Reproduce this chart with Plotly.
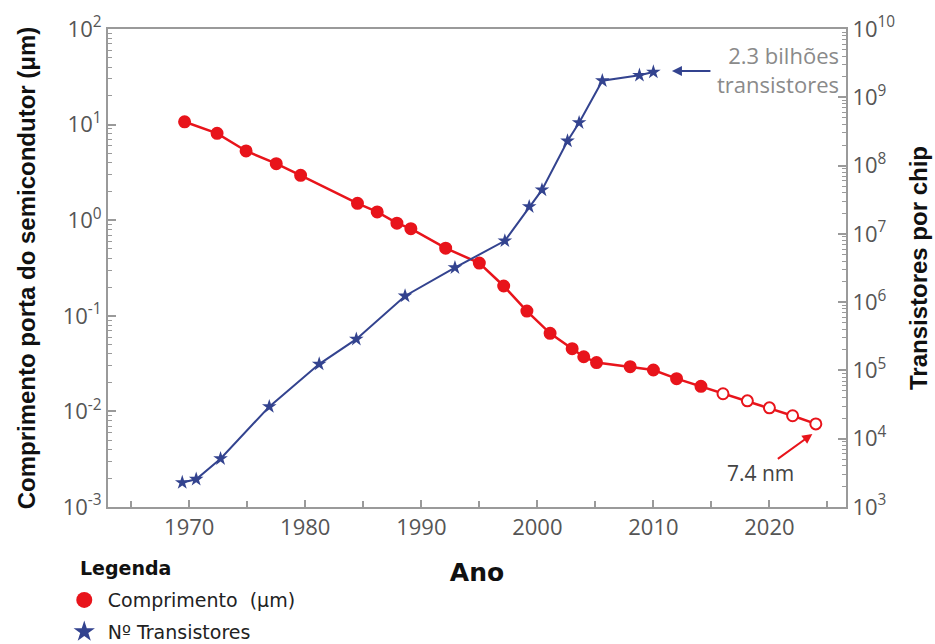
import plotly.graph_objects as go

# ---- data ----
len_years = [1969.6, 1972.4, 1974.9, 1977.5, 1979.6, 1984.5, 1986.2, 1987.9, 1989.1,
             1992.1, 1995.0, 1997.1, 1999.1, 2001.1, 2003.0, 2004.0, 2005.1, 2008.0,
             2010.0, 2012.0, 2014.1, 2016.0, 2018.1, 2020.0, 2022.0, 2024.0]
len_um = [10.7, 8.1, 5.3, 3.9, 2.95, 1.50, 1.22, 0.93, 0.815,
          0.51, 0.356, 0.205, 0.112, 0.0656, 0.0453, 0.0373, 0.0324, 0.0294,
          0.0271, 0.022, 0.0183, 0.0153, 0.0129, 0.0109, 0.0090, 0.0074]
len_projected = [False] * 21 + [True] * 5

tr_years = [1969.4, 1970.6, 1972.7, 1976.9, 1981.2, 1984.4, 1988.6, 1992.9, 1997.2,
            1999.3, 2000.4, 2002.6, 2003.6, 2005.6, 2008.8, 2010.0]
tr_count = [2280, 2550, 5100, 29500, 124000, 287000, 1.23e6, 3.2e6, 7.9e6,
            2.5e7, 4.4e7, 2.29e8, 4.25e8, 1.75e9, 2.1e9, 2.34e9]

x_ticks = [1970, 1980, 1990, 2000, 2010, 2020]
y1_ticks = [1e-3, 1e-2, 1e-1, 1e0, 1e1, 1e2]
y1_labels = ["10<sup>-3</sup>", "10<sup>-2</sup>", "10<sup>-1</sup>",
             "10<sup>0</sup>", "10<sup>1</sup>", "10<sup>2</sup>"]
y2_ticks = [1e3, 1e4, 1e5, 1e6, 1e7, 1e8, 1e9, 1e10]
y2_labels = ["10<sup>3</sup>", "10<sup>4</sup>", "10<sup>5</sup>", "10<sup>6</sup>",
             "10<sup>7</sup>", "10<sup>8</sup>", "10<sup>9</sup>", "10<sup>10</sup>"]

RED = "#e8141b"
BLUE = "#33438f"
AXIS = "#9a9a9a"
TICKFONT = dict(family="Open Sans", size=22, color="#555555")
TITLEFONT = dict(family="Liberation Sans", size=24, color="#111111")


def minor_log(lo, hi):
    vals = []
    for e in range(lo, hi):
        for k in range(2, 10):
            vals.append(k * 10 ** e)
    return vals


fig = go.Figure()

# transistors (right axis)
fig.add_trace(go.Scatter(
    x=tr_years, y=tr_count, yaxis="y2", mode="lines+markers",
    line=dict(color=BLUE, width=2),
    marker=dict(symbol="star", size=11, color=BLUE),
    showlegend=False, hoverinfo="x+y"))

# gate length (left axis)
fig.add_trace(go.Scatter(
    x=len_years, y=len_um, mode="lines+markers",
    line=dict(color=RED, width=2.5),
    marker=dict(symbol="circle", size=11,
                color=["white" if p else RED for p in len_projected],
                line=dict(color=RED, width=2)),
    showlegend=False, hoverinfo="x+y"))

# legend-only entries
fig.add_trace(go.Scatter(x=[None], y=[None], mode="markers", name="Comprimento  (μm)",
                         legendgroup="a",
                         marker=dict(symbol="circle", size=18, color=RED)))
fig.add_trace(go.Scatter(x=[None], y=[None], mode="markers", name="Nº Transistores",
                         legendgroup="b",
                         marker=dict(symbol="star", size=20, color=BLUE)))

# annotations
fig.add_annotation(x=tr_years[-1] + 1.6, y=9.385, xref="x", yref="y2",
                   ax=40, ay=0, text="", showarrow=True,
                   arrowhead=2, arrowsize=1, arrowwidth=2, arrowcolor=BLUE)
fig.add_annotation(x=0.993, xref="paper", xanchor="right", y=9.40, yref="y2",
                   yanchor="middle", align="right", showarrow=False,
                   text="2.3 bilhões<br>transistores",
                   font=dict(family="Open Sans", size=22, color="#8a8a8a"))
fig.add_annotation(x=len_years[-1] - 0.3, y=-2.236, xref="x", yref="y",
                   ax=-36, ay=26, text="", showarrow=True,
                   arrowhead=2, arrowsize=1, arrowwidth=2, arrowcolor=RED)
fig.add_annotation(x=2019.2, y=-2.64, xref="x", yref="y", showarrow=False,
                   text="7.4 nm", font=dict(family="Open Sans", size=21, color="#444444"))
fig.add_annotation(x=-0.04, xref="paper", y=-0.128, yref="paper", showarrow=False,
                   text="<b>Legenda</b>", xanchor="left", yanchor="middle",
                   font=dict(family="DejaVu Sans", size=19, color="#111111"))

fig.update_layout(
    width=935, height=644,
    margin=dict(l=108, r=89, t=29, b=137, autoexpand=False),
    paper_bgcolor="white", plot_bgcolor="white",
    xaxis=dict(range=[1963.0, 2026.6], tickvals=x_ticks, ticks="inside", ticklen=7,
               tickcolor=AXIS, tickwidth=1.5, automargin=False,
               minor=dict(tickvals=[1965, 1975, 1985, 1995, 2005, 2015, 2025],
                          ticks="inside", ticklen=6, tickcolor=AXIS, tickwidth=1.5),
               showline=True, linecolor=AXIS, linewidth=2, mirror=True,
               showgrid=False, zeroline=False, tickfont=TICKFONT,
               title=dict(text="<b>Ano</b>", standoff=23,
                          font=dict(family="DejaVu Sans", size=25, color="#111111"))),
    yaxis=dict(type="log", range=[-3, 2], tickvals=y1_ticks, ticktext=y1_labels,
               ticks="inside", ticklen=8, tickcolor=AXIS, tickwidth=1.5, automargin=False,
               minor=dict(tickvals=minor_log(-3, 2), ticks="inside", ticklen=4,
                          tickcolor=AXIS, tickwidth=1),
               showline=True, linecolor=AXIS, linewidth=2,
               showgrid=False, zeroline=False, tickfont=TICKFONT,
               title=dict(text="<b>Comprimento porta do semicondutor (μm)</b>", standoff=20,
                          font=TITLEFONT)),
    yaxis2=dict(type="log", range=[3, 10], overlaying="y", side="right",
                tickvals=y2_ticks, ticktext=y2_labels, automargin=False,
                ticks="inside", ticklen=8, tickcolor=AXIS, tickwidth=1.5,
                minor=dict(tickvals=minor_log(3, 10), ticks="inside", ticklen=4,
                           tickcolor=AXIS, tickwidth=1),
                showline=True, linecolor=AXIS, linewidth=2,
                showgrid=False, zeroline=False, tickfont=TICKFONT,
                title=dict(text="<b>Transistores por chip</b>", standoff=16,
                           font=TITLEFONT)),
    legend=dict(x=-0.064, xanchor="left", y=-0.155, yanchor="top",
                font=dict(family="DejaVu Sans", size=19, color="#222222"),
                itemsizing="trace", itemwidth=37, tracegroupgap=4,
                bgcolor="rgba(0,0,0,0)"),
    showlegend=True,
)

fig.write_html("out.html", config={"displayModeBar": False},
               post_script="document.body.style.margin='0';")
